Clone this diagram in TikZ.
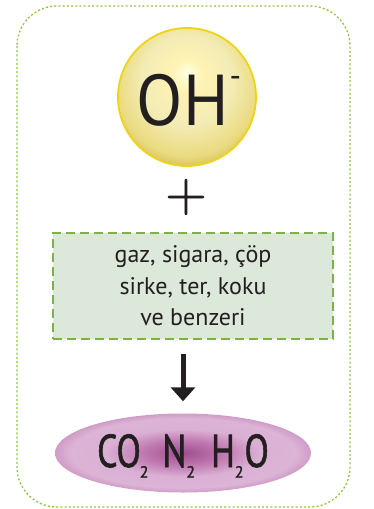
\documentclass[tikz,border=0pt]{standalone}
\usepackage{fontspec}
\setmainfont{PT Sans}
\newfontfamily\plusfont[FakeBold=1.2]{Latin Modern Roman}
\newfontfamily\formulafont[FakeBold=1.6]{PT Sans}
\usetikzlibrary{shapes.geometric,arrows.meta}
\definecolor{dotgreen}{HTML}{8CC63F}
\definecolor{dashgreen}{HTML}{7DB343}
\definecolor{boxfill}{HTML}{DCE8DA}
\definecolor{ballrim}{HTML}{EFD31A}
\definecolor{textblack}{HTML}{231F20}
\pgfdeclareradialshading{yellowball}{\pgfpoint{0bp}{9bp}}{%
  color(0bp)=(white!88!yellow);
  color(6bp)=(white!78!yellow!90!orange);
  color(16bp)=({rgb,255:red,243;green,236;blue,182});
  color(26bp)=({rgb,255:red,234;green,218;blue,126});
  color(31bp)=({rgb,255:red,205;green,180;blue,70});
  color(50bp)=({rgb,255:red,205;green,180;blue,70})}
\pgfdeclareradialshading{purpleell}{\pgfpoint{0bp}{0bp}}{%
  color(0bp)=({rgb,255:red,160;green,76;blue,142});
  color(8bp)=({rgb,255:red,192;green,122;blue,177});
  color(15bp)=({rgb,255:red,218;green,176;blue,212});
  color(22bp)=({rgb,255:red,220;green,180;blue,214});
  color(25bp)=({rgb,255:red,208;green,156;blue,199});
  color(50bp)=({rgb,255:red,208;green,156;blue,199})}
\tikzset{
  frame/.style={draw=dotgreen, line width=1.3pt, dash pattern=on 2pt off 2.2pt, rounded corners=40pt},
  ball/.style={circle, minimum size=138pt, inner sep=0pt, shading=yellowball, draw=ballrim, line width=1.8pt},
  plusnode/.style={inner sep=0pt, text=textblack},
  itembox/.style={rectangle, minimum width=280pt, minimum height=106pt, inner sep=0pt, fill=boxfill, draw=dashgreen, line width=2.4pt, dash pattern=on 9pt off 5pt, align=center, text=textblack, font=\fontsize{24}{31.5}\selectfont},
  product/.style={ellipse, minimum width=256pt, minimum height=79pt, inner sep=0pt, shading=purpleell, text=textblack},
  bigarrow/.style={line width=5pt, draw=textblack, -{Triangle[width=24pt,length=14pt]}}
}
\newcommand{\subtwo}{\raisebox{-10.5pt}{\fontsize{16}{16}\selectfont 2}}
\newcommand{\cond}[1]{\scalebox{0.77}[1]{#1}}
\begin{document}
\begin{tikzpicture}[x=1pt,y=1pt]
\useasboundingbox (0,0) rectangle (373,-509);
\draw[frame] (17,-6) rectangle (350,-507);
\node[ball] (oh) at (187,-97) {};
\node[text=textblack, inner sep=0pt, anchor=base] (ohtext) at (189,-125) {\scalebox{0.94}[1]{\fontsize{72}{72}\selectfont OH\kern1pt\raisebox{38pt}{\fontsize{34}{34}\selectfont -}}};
\node[plusnode] (plus) at (186,-197) {\plusfont\fontsize{57}{57}\selectfont +};
\node[itembox] (box) at (193,-286) {gaz, sigara, çöp\\sirke, ter, koku\\ve benzeri};
\node[product] (ell) at (183,-453) {};
\node[text=textblack, inner sep=0pt, anchor=base] (formula) at (183,-467) {\formulafont\fontsize{46}{46}\selectfont\cond{CO}\kern-1pt\subtwo\hspace{14pt}\cond{N}\subtwo\hspace{16pt}\cond{H}\subtwo\kern1pt\cond{O}};
\draw[bigarrow] ([yshift=-14pt]ell.north |- box.south) -- ([yshift=12pt]ell.north);
\end{tikzpicture}
\end{document}
